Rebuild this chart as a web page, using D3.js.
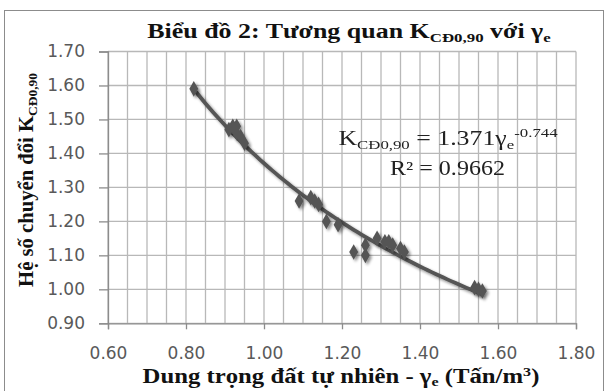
<!DOCTYPE html>
<html><head><meta charset="utf-8">
<script src="https://cdn.jsdelivr.net/npm/d3@7"></script>
<style>
html,body{margin:0;padding:0;background:#fff;}
svg{display:block;}
</style></head>
<body>
<svg id="c" width="608" height="391"></svg>
<script>
// Data
const gammaE = [0.82, 0.91, 0.92, 0.93, 0.93, 0.94, 0.95, 1.09, 1.12, 1.13, 1.14, 1.16, 1.19, 1.23, 1.26, 1.26, 1.29, 1.31, 1.32, 1.33, 1.35, 1.36, 1.54, 1.55, 1.56];
const kValues = [1.59, 1.47, 1.48, 1.48, 1.46, 1.45, 1.43, 1.26, 1.27, 1.26, 1.25, 1.20, 1.19, 1.11, 1.13, 1.10, 1.15, 1.14, 1.14, 1.13, 1.12, 1.11, 1.005, 1.00, 0.995];
const xTicks = [0.60, 0.80, 1.00, 1.20, 1.40, 1.60, 1.80];
const yTicks = [0.90, 1.00, 1.10, 1.20, 1.30, 1.40, 1.50, 1.60, 1.70];
// Power trendline shown on chart: K = 1.371 * gamma^-0.744
const trendA = 1.371, trendB = -0.744;

const svg = d3.select("#c");
const L = 108, R = 576, T = 51.5, B = 323.3;
const x = d3.scaleLinear().domain([0.6, 1.8]).range([L, R]);
const y = d3.scaleLinear().domain([0.9, 1.7]).range([B, T]);

const defs = svg.append("defs");
const f = defs.append("filter").attr("id", "sh").attr("x", "-20%").attr("y", "-20%").attr("width", "140%").attr("height", "140%");
f.append("feGaussianBlur").attr("in", "SourceAlpha").attr("stdDeviation", 1.6).attr("result", "b");
f.append("feOffset").attr("in", "b").attr("dx", 1.5).attr("dy", 2).attr("result", "o");
f.append("feComponentTransfer").attr("in", "o").attr("result", "o2")
  .append("feFuncA").attr("type", "linear").attr("slope", 0.45);
const m = f.append("feMerge");
m.append("feMergeNode").attr("in", "o2");
m.append("feMergeNode").attr("in", "SourceGraphic");

// outer border
svg.append("rect").attr("x", 4.5).attr("y", 10.5).attr("width", 599).attr("height", 390)
  .attr("fill", "#fff").attr("stroke", "#8c8c8c").attr("stroke-width", 1);

// gridlines
const vGrid = d3.range(0, 25).map(i => 0.6 + i * 0.05);
svg.append("g").selectAll("line").data(vGrid).join("line")
  .attr("x1", d => x(d)).attr("x2", d => x(d)).attr("y1", T).attr("y2", B)
  .attr("stroke", "#b8b8b8").attr("stroke-width", 1.3);
svg.append("g").selectAll("line").data(yTicks).join("line")
  .attr("x1", L).attr("x2", R).attr("y1", d => y(d)).attr("y2", d => y(d))
  .attr("stroke", "#b8b8b8").attr("stroke-width", 1.3);

// axes
const yAxis = d3.axisLeft(y).tickValues(yTicks).tickSize(9).tickPadding(14).tickFormat(d3.format(".2f"));
const gy = svg.append("g").attr("transform", `translate(${L},0)`).call(yAxis);
const xAxis = d3.axisBottom(x).tickValues(xTicks).tickSize(6).tickPadding(18).tickFormat(d3.format(".2f"));
const gx = svg.append("g").attr("transform", `translate(0,${B})`).call(xAxis);
[gx, gy].forEach(g => {
  g.select(".domain").attr("stroke", "#8c8c8c").attr("stroke-width", 1.3);
  g.selectAll(".tick line").attr("stroke", "#8c8c8c").attr("stroke-width", 1.3);
  g.selectAll(".tick text").attr("fill", "#595959").style("font-family", "DejaVu Sans, Verdana, sans-serif").style("font-size", "17px");
});

// trendline
const tx = d3.range(0.82, 1.5601, 0.01);
const line = d3.line().x(d => x(d)).y(d => y(trendA * Math.pow(d, trendB))).curve(d3.curveMonotoneX);
svg.append("path").datum(tx).attr("d", line).attr("fill", "none")
  .attr("stroke", "#555").attr("stroke-width", 3.8).attr("filter", "url(#sh)");

// markers
const sym = d3.symbol().type(d3.symbolDiamond).size(70);
svg.append("g").attr("filter", "url(#sh)").selectAll("path").data(gammaE).join("path")
  .attr("d", sym).attr("transform", (d, i) => `translate(${x(d)},${y(kValues[i])})`)
  .attr("fill", "#555");

const serif = "Liberation Serif, Times New Roman, serif";
function fitX(sel, cx, target) {
  const w = sel.node().getBBox().width;
  const s = target / w;
  sel.attr("transform", `translate(${cx},0) scale(${s},1) translate(${-cx},0)`);
}

// title
const title = svg.append("text").attr("x", 349).attr("y", 38).attr("text-anchor", "middle")
  .style("font-family", serif).style("font-weight", "bold").style("font-size", "20px").attr("fill", "#111");
title.append("tspan").text("Biểu đồ 2: Tương quan K");
title.append("tspan").attr("dy", 4).style("font-size", "13px").text("CĐ0,90");
title.append("tspan").attr("dy", -4).text(" với γ");
title.append("tspan").attr("dy", 4).style("font-size", "13px").text("e");
fitX(title, 349, 404);

// y title
const yt = svg.append("text").attr("x", 0).attr("y", 0).attr("text-anchor", "middle")
  .style("font-family", serif).style("font-weight", "bold").style("font-size", "20px").attr("fill", "#111");
yt.append("tspan").text("Hệ số chuyển đổi K");
yt.append("tspan").attr("dy", 4).style("font-size", "13px").text("CĐ0,90");
{
  const w = yt.node().getBBox().width;
  yt.attr("transform", `translate(33,180) rotate(-90) scale(${214 / w},1)`);
}

// x title
const xt = svg.append("text").attr("x", 341).attr("y", 383).attr("text-anchor", "middle")
  .style("font-family", serif).style("font-weight", "bold").style("font-size", "20px").attr("fill", "#111");
xt.append("tspan").text("Dung trọng  đất tự nhiên  - γ");
xt.append("tspan").attr("dy", 3).style("font-size", "13px").text("e");
xt.append("tspan").attr("dy", -3).text(" (Tấn/m");
xt.append("tspan").attr("dy", -7).style("font-size", "13px").text("3");
xt.append("tspan").attr("dy", 7).text(")");
fitX(xt, 341, 397);

// equation
const eq = svg.append("text").attr("x", 448).attr("y", 145).attr("text-anchor", "middle")
  .style("font-family", serif).style("font-size", "20px").attr("fill", "#222");
eq.append("tspan").text("K");
eq.append("tspan").attr("dy", 4).style("font-size", "13px").text("CĐ0,90");
eq.append("tspan").attr("dy", -4).text(" = 1.371γ");
eq.append("tspan").attr("dy", 4).style("font-size", "13px").text("e");
eq.append("tspan").attr("dy", -12).style("font-size", "13px").text("-0.744");
fitX(eq, 448, 220);
const r2 = svg.append("text").attr("x", 447.5).attr("y", 175).attr("text-anchor", "middle")
  .style("font-family", serif).style("font-size", "20px").attr("fill", "#222");
r2.append("tspan").text("R² = 0.9662");
fitX(r2, 447.5, 115);
</script>
</body></html>
